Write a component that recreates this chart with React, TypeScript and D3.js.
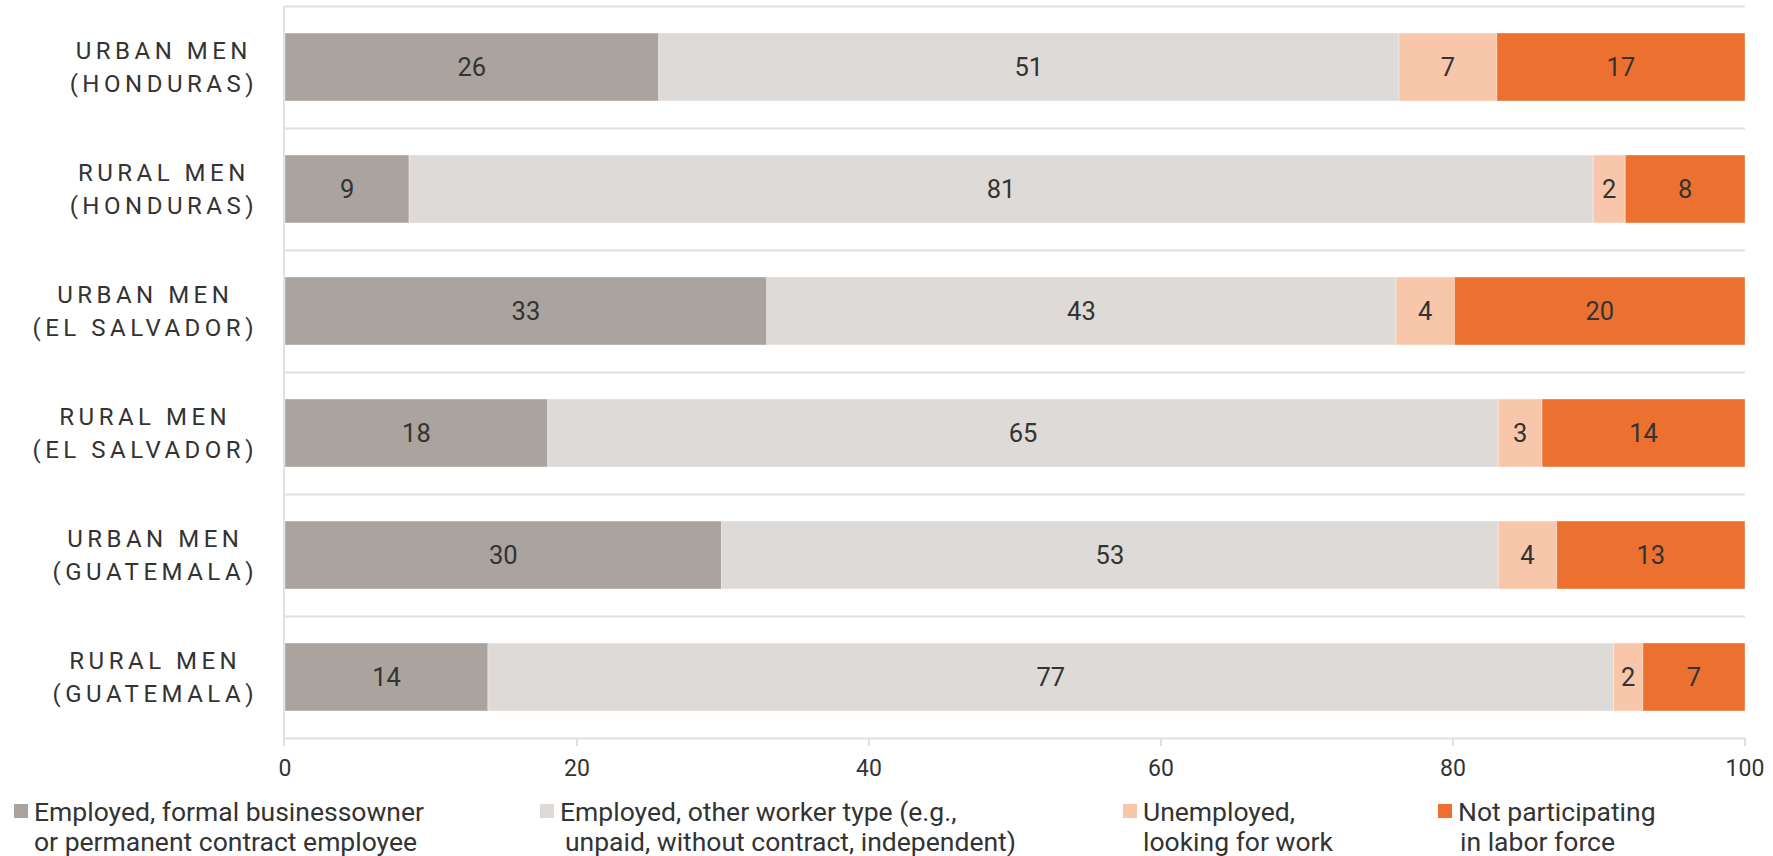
import React, { useEffect, useRef } from "react";
import * as d3 from "d3";

const categories = [
  ["URBAN MEN", "(HONDURAS)"],
  ["RURAL MEN", "(HONDURAS)"],
  ["URBAN MEN", "(EL SALVADOR)"],
  ["RURAL MEN", "(EL SALVADOR)"],
  ["URBAN MEN", "(GUATEMALA)"],
  ["RURAL MEN", "(GUATEMALA)"],
];
const formal = [25.6, 8.5, 33.0, 18.0, 29.9, 13.9];
const otherWorker = [50.7, 81.1, 43.1, 65.1, 53.2, 77.1];
const unemployed = [6.7, 2.2, 4.0, 3.0, 4.0, 2.0];
const notParticipating = [17.0, 8.2, 19.9, 13.9, 12.9, 7.0];
const labels = [
  [26, 51, 7, 17],
  [9, 81, 2, 8],
  [33, 43, 4, 20],
  [18, 65, 3, 14],
  [30, 53, 4, 13],
  [14, 77, 2, 7],
];
const xTicks = [0, 20, 40, 60, 80, 100];
const seriesNames = [
  ["Employed, formal businessowner", "or permanent contract employee"],
  ["Employed, other worker type (e.g.,", "unpaid, without contract, independent)"],
  ["Unemployed,", "looking for work"],
  ["Not participating", "in labor force"],
];
const colors = ["#ABA39D", "#DEDAD7", "#F7C6AB", "#EC7130"];

const W = 1773;
const H = 856;
const FONT = "Roboto, 'Noto Sans', sans-serif";

export default function App() {
  const ref = useRef<SVGSVGElement>(null);
  useEffect(() => {
    const svg = d3.select(ref.current);
    svg.selectAll("*").remove();
    const left = 285, right = 1745, top = 6, bottom = 738;
    const x = d3.scaleLinear().domain([0, 100]).range([left, right]);
    const y = d3.scaleBand<number>().domain(d3.range(categories.length)).range([top, bottom]).paddingInner(0.443).paddingOuter(0.2215);
    const band = d3.scaleBand<number>().domain(d3.range(categories.length)).range([top, bottom]);

    const series = [formal, otherWorker, unemployed, notParticipating];
    const rows = categories.map((c, i) => ({ i, vals: series.map((s) => s[i]) }));

    const g = svg.append("g");
    d3.range(categories.length + 1).forEach((k) => {
      const yy = k < categories.length ? band(k)! : bottom;
      g.append("line").attr("x1", left).attr("x2", right).attr("y1", yy + 0.5).attr("y2", yy + 0.5)
        .attr("stroke", "#E0E0E0").attr("stroke-width", 2);
    });
    g.append("line").attr("x1", left - 1).attr("x2", left - 1).attr("y1", top).attr("y2", bottom + 8)
      .attr("stroke", "#E0E0E0").attr("stroke-width", 2);
    xTicks.forEach((t) => {
      if (t === 0) return;
      g.append("line").attr("x1", x(t)).attr("x2", x(t)).attr("y1", bottom).attr("y2", bottom + 8)
        .attr("stroke", "#E0E0E0").attr("stroke-width", 2);
    });
    g.selectAll("text.tick").data(xTicks).enter().append("text")
      .attr("x", (d) => x(d)).attr("y", 768).attr("dy", "0.35em").attr("text-anchor", "middle")
      .attr("font-family", FONT).attr("font-size", 23).attr("fill", "#333").text((d) => d);

    rows.forEach((r) => {
      let acc = 0;
      r.vals.forEach((v, j) => {
        const x0 = x(acc), x1 = x(acc + v);
        svg.append("rect").attr("x", x0).attr("y", y(r.i)!).attr("width", x1 - x0).attr("height", y.bandwidth())
          .attr("fill", colors[j]).attr("stroke", "rgba(255,255,255,0.35)").attr("stroke-width", 1);
        svg.append("text").attr("x", (x0 + x1) / 2).attr("y", y(r.i)! + y.bandwidth() / 2).attr("dy", "0.35em")
          .attr("text-anchor", "middle").attr("font-family", FONT).attr("font-size", 25.5).attr("fill", "#333")
          .text(labels[r.i][j]);
        acc += v;
      });
    });

    categories.forEach((lines, i) => {
      const cy = band(i)! + band.bandwidth() / 2;
      const tg = svg.append("g");
      const texts = lines.map((l, k) =>
        tg.append("text").attr("y", cy + (k === 0 ? -16.5 : 16.5)).attr("dy", "0.35em")
          .attr("text-anchor", "middle").attr("font-family", FONT).attr("font-size", 24)
          .attr("letter-spacing", "4.5px").attr("fill", "#333").text(l)
      );
      const widths = texts.map((t) => (t.node() as SVGTextElement).getComputedTextLength());
      const maxW = Math.max(...widths);
      const cx = 256 - maxW / 2;
      texts.forEach((t) => t.attr("x", cx + 2));
    });

    const legendX = [14, 540, 1123, 1438];
    const indent = [0, 5, 0, 2];
    seriesNames.forEach((lines, j) => {
      svg.append("rect").attr("x", legendX[j]).attr("y", 804).attr("width", 14).attr("height", 14).attr("fill", colors[j]);
      lines.forEach((l, k) => {
        svg.append("text").attr("x", legendX[j] + 20 + (k ? indent[j] : 0)).attr("y", 812 + k * 30).attr("dy", "0.35em")
          .attr("font-family", FONT).attr("font-size", 26.5).attr("fill", "#333").text(l);
      });
    });
  }, []);
  return (
    <svg ref={ref} width={W} height={H} style={{ position: "absolute", left: 0, top: 0, background: "#fff" }} />
  );
}
